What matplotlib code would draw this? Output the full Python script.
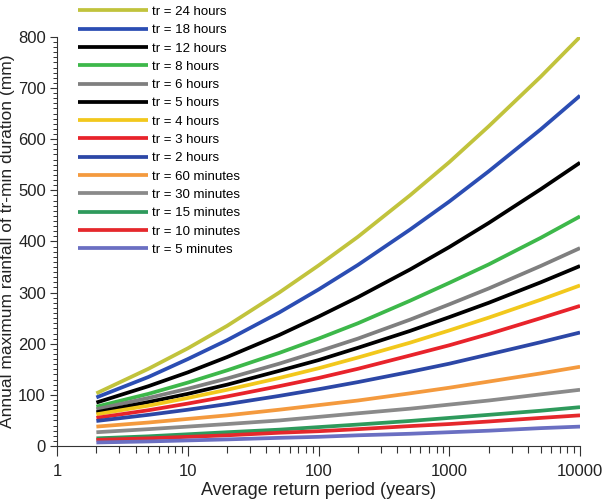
import numpy as np
import matplotlib.pyplot as plt
from matplotlib.ticker import LogLocator, MultipleLocator, FixedLocator, FixedFormatter

plt.rcParams['font.family'] = ['Liberation Sans', 'DejaVu Sans']

# return periods (years)
T = [2, 5, 10, 20, 50, 100, 200, 500, 1000, 2000, 5000, 10000]

# annual maximum rainfall (mm) for each duration
r24h = [103, 151, 191, 235, 300, 353, 409, 490, 555, 625, 722, 800]
r18h = [95, 135, 170, 207, 261, 306, 354, 423, 478, 537, 619, 685]
r12h = [85, 117, 144, 174, 217, 253, 291, 345, 389, 436, 502, 554]
r8h = [77, 102, 124, 148, 182, 210, 240, 284, 319, 355, 407, 449]
r6h = [72, 94, 112, 132, 161, 185, 210, 247, 277, 308, 352, 387]
r5h = [66, 86, 102, 120, 147, 168, 192, 225, 252, 280, 320, 352]
r4h = [62, 79, 94, 110, 133, 152, 173, 202, 226, 251, 286, 314]
r3h = [55, 70, 83, 97, 117, 133, 151, 177, 197, 219, 250, 274]
r2h = [49, 61, 71, 82, 98, 111, 125, 145, 161, 179, 203, 222]
r60m = [38, 46, 53, 60, 71, 80, 89, 103, 114, 126, 142, 155]
r30m = [27, 33, 38, 43, 50, 57, 64, 73, 81, 89, 101, 110]
r15m = [15, 19, 23, 27, 32, 37, 42, 49, 55, 61, 69, 76]
r10m = [12, 15, 18, 21, 26, 29, 33, 39, 43, 48, 55, 60]
r5m = [7, 9, 11, 13, 16, 18, 21, 24, 27, 30, 35, 38]

labels = ['tr = 24 hours', 'tr = 18 hours', 'tr = 12 hours', 'tr = 8 hours',
          'tr = 6 hours', 'tr = 5 hours', 'tr = 4 hours', 'tr = 3 hours',
          'tr = 2 hours', 'tr = 60 minutes', 'tr = 30 minutes',
          'tr = 15 minutes', 'tr = 10 minutes', 'tr = 5 minutes']
series = [r24h, r18h, r12h, r8h, r6h, r5h, r4h, r3h, r2h,
          r60m, r30m, r15m, r10m, r5m]
colors = ['#c1c33c', '#2b4db3', '#000000', '#3db84a', '#7f7f7f', '#000000',
          '#f2c81c', '#e8232b', '#2c47a6', '#f49a3e', '#8a8a8a', '#2e9a5c',
          '#e5282c', '#6a6fc2']

fig = plt.figure(figsize=(6.02, 5.04), dpi=100)
ax = fig.add_axes([0.0947, 0.115, 0.8688, 0.8119])

for y, c, lab in zip(series, colors, labels):
    ax.plot(T, y, color=c, lw=2.7, label=lab, solid_capstyle='butt')

ax.set_xscale('log')
ax.set_xlim(1, 10000)
ax.set_ylim(0, 800)

ax.xaxis.set_major_locator(FixedLocator([1, 10, 100, 1000, 10000]))
ax.xaxis.set_major_formatter(FixedFormatter(['1', '10', '100', '1000', '10000']))
ax.xaxis.set_minor_locator(LogLocator(base=10, subs=np.arange(2, 10)))
ax.yaxis.set_major_locator(MultipleLocator(100))
ax.yaxis.set_minor_locator(MultipleLocator(10))

for s in ['top', 'right']:
    ax.spines[s].set_visible(False)
for s in ['left', 'bottom']:
    ax.spines[s].set_linewidth(0.8)
    ax.spines[s].set_color('#333333')

ax.tick_params(axis='both', which='major', direction='out', labelsize=12,
               color='#333333', labelcolor='#222222', width=0.8)
ax.tick_params(axis='x', which='major', length=7, pad=6)
ax.tick_params(axis='x', which='minor', length=5, width=0.8, color='#333333')
ax.tick_params(axis='y', which='major', length=5, pad=3)
ax.tick_params(axis='y', which='minor', length=3, width=0.7, color='#333333')

ax.set_xlabel('Average return period (years)', fontsize=13, color='#222222', labelpad=2)
ax.set_ylabel('Annual maximum rainfall of tr-min duration (mm)', fontsize=12.5,
              color='#222222', labelpad=2)

leg = ax.legend(loc='upper left', bbox_to_anchor=(0.125, 0.994), bbox_transform=fig.transFigure,
                frameon=False, fontsize=9.5, handlelength=5.3, handletextpad=0.35,
                labelspacing=0.46, borderaxespad=0, borderpad=0.2)

fig.savefig('out.png', dpi=100)
